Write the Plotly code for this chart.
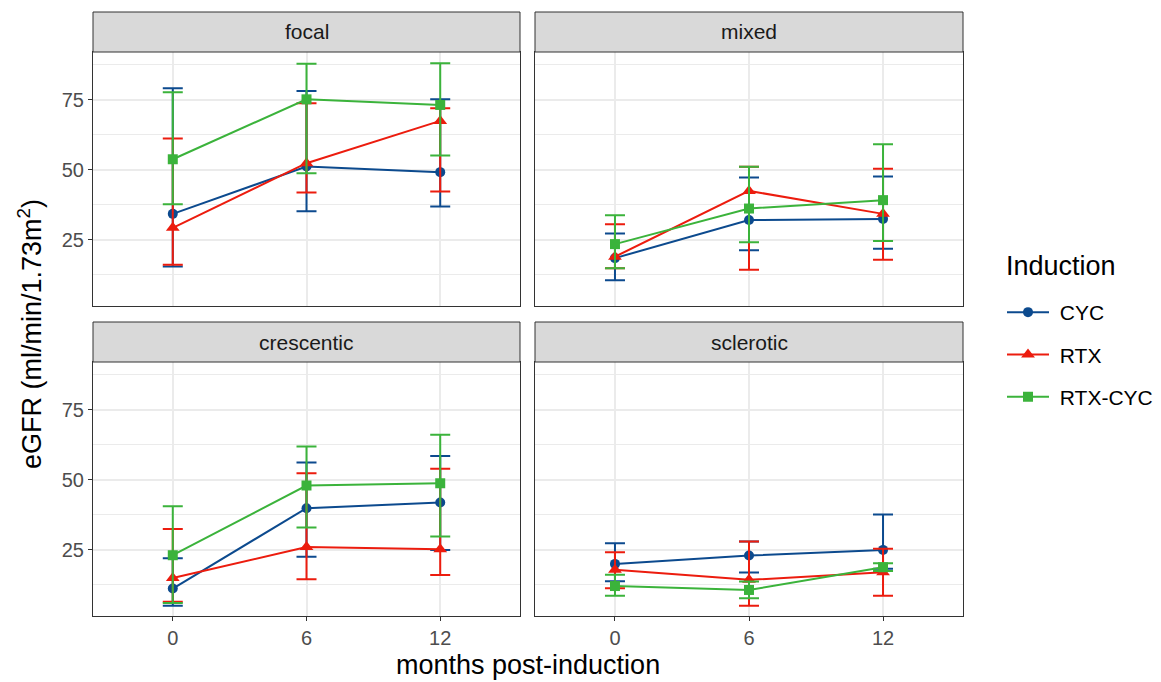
import plotly.graph_objects as go

months = [0, 6, 12]
panels = ["focal", "mixed", "crescentic", "sclerotic"]
groups = ["CYC", "RTX", "RTX-CYC"]

# mean, upper, lower per panel per group
mean = {
    "focal":      {"CYC": [34.3, 51.2, 49.2], "RTX": [29.3, 52.4, 67.5], "RTX-CYC": [53.8, 75.2, 73.2]},
    "mixed":      {"CYC": [18.5, 32.1, 32.5], "RTX": [19.0, 42.5, 34.3], "RTX-CYC": [23.5, 36.2, 39.2]},
    "crescentic": {"CYC": [11.2, 39.9, 41.9], "RTX": [15.0, 26.0, 25.2], "RTX-CYC": [23.1, 48.0, 48.8]},
    "sclerotic":  {"CYC": [20.0, 23.0, 25.0], "RTX": [17.9, 14.3, 17.0], "RTX-CYC": [12.1, 10.7, 18.8]},
}
upper = {
    "focal":      {"CYC": [79.2, 78.2, 75.2], "RTX": [61.2, 73.8, 72.0], "RTX-CYC": [77.7, 87.9, 88.1]},
    "mixed":      {"CYC": [27.3, 47.3, 47.6], "RTX": [30.6, 51.1, 50.4], "RTX-CYC": [33.8, 51.1, 59.2]},
    "crescentic": {"CYC": [22.0, 56.2, 58.5], "RTX": [32.5, 52.4, 54.0], "RTX-CYC": [40.6, 61.9, 66.1]},
    "sclerotic":  {"CYC": [27.4, 28.0, 37.6], "RTX": [24.2, 28.0, 25.4], "RTX-CYC": [16.1, 13.7, 20.2]},
}
lower = {
    "focal":      {"CYC": [15.5, 35.2, 36.9], "RTX": [16.1, 41.9, 42.3], "RTX-CYC": [37.7, 48.8, 55.1]},
    "mixed":      {"CYC": [10.6, 21.3, 21.8], "RTX": [14.9, 14.3, 17.9], "RTX-CYC": [14.9, 24.2, 24.6]},
    "crescentic": {"CYC": [5.1, 22.6, 25.0], "RTX": [6.5, 14.5, 16.0], "RTX-CYC": [6.0, 33.0, 29.8]},
    "sclerotic":  {"CYC": [13.8, 16.9, 18.3], "RTX": [11.3, 5.1, 8.6], "RTX-CYC": [8.6, 7.75, 17.5]},
}

colors = {"CYC": "#0C4A8E", "RTX": "#EC1C0E", "RTX-CYC": "#3BB33B"}
symbols = {"CYC": "circle", "RTX": "triangle-up", "RTX-CYC": "square"}
msize = {"CYC": 10, "RTX": 12, "RTX-CYC": 10}

FONT = "Liberation Sans, Arial, sans-serif"
W, H = 1161, 682
# pixel boxes for panels: (x0, x1, ytop, ybottom)
boxes = {
    "focal": (93, 520, 52, 306),
    "mixed": (535, 963, 52, 306),
    "crescentic": (93, 520, 362, 616),
    "sclerotic": (535, 963, 362, 616),
}
strip_h = 40

fig = go.Figure()
axis_ids = {"focal": "", "mixed": "2", "crescentic": "3", "sclerotic": "4"}

for p in panels:
    aid = axis_ids[p]
    for g in groups:
        m = mean[p][g]
        ep = [u - v for u, v in zip(upper[p][g], m)]
        em = [v - l for v, l in zip(m, lower[p][g])]
        fig.add_trace(go.Scatter(
            x=months, y=m, mode="lines+markers", name="\u00a0" + g,
            legendgroup=g, showlegend=(p == "focal"),
            line=dict(color=colors[g], width=2),
            marker=dict(symbol=symbols[g], size=msize[g], color=colors[g]),
            error_y=dict(type="data", symmetric=False, array=ep, arrayminus=em,
                         color=colors[g], thickness=2, width=10),
            xaxis="x" + aid, yaxis="y" + aid,
        ))

layout_axes = {}
shapes = []
annotations = []
for p in panels:
    aid = axis_ids[p]
    x0, x1, yt, yb = boxes[p]
    bottom_row = p in ("crescentic", "sclerotic")
    left_col = p in ("focal", "crescentic")
    layout_axes["xaxis" + aid] = dict(
        domain=[x0 / W, x1 / W], anchor="y" + aid,
        range=[-3.58, 15.58], tickvals=months,
        ticktext=[str(v) for v in months],
        showticklabels=bottom_row,
        ticks="outside" if bottom_row else "", ticklen=4, tickcolor="#333333",
        showgrid=True, gridcolor="#EBEBEB", gridwidth=1.6,
        showline=True, linecolor="#333333", linewidth=1, mirror=True,
        zeroline=False,
        tickfont=dict(family=FONT, size=20, color="#4D4D4D"),
    )
    layout_axes["yaxis" + aid] = dict(
        domain=[1 - yb / H, 1 - yt / H], anchor="x" + aid,
        range=[1.4, 92.1], tickvals=[25, 50, 75],
        showticklabels=left_col,
        ticks="outside" if left_col else "", ticklen=4, tickcolor="#333333",
        showgrid=True, gridcolor="#EBEBEB", gridwidth=1.6,
        minor=dict(tickvals=[12.5, 37.5, 62.5, 87.5], showgrid=True,
                   gridcolor="#EBEBEB", gridwidth=0.8, ticks=""),
        showline=True, linecolor="#333333", linewidth=1, mirror=True,
        zeroline=False,
        tickfont=dict(family=FONT, size=20, color="#4D4D4D"),
    )
    # strip
    shapes.append(dict(type="rect", xref="paper", yref="paper",
                       x0=x0 / W, x1=x1 / W, y0=1 - yt / H, y1=1 - (yt - strip_h) / H,
                       fillcolor="#D9D9D9", line=dict(color="#333333", width=1)))
    annotations.append(dict(text=p, xref="paper", yref="paper",
                            x=(x0 + x1) / 2 / W, y=1 - (yt - strip_h / 2) / H,
                            xanchor="center", yanchor="middle", showarrow=False,
                            font=dict(family=FONT, size=21, color="#1A1A1A")))

annotations.append(dict(text="months post-induction", xref="paper", yref="paper",
                        x=528 / W, y=1 - 665 / H, xanchor="center", yanchor="middle",
                        showarrow=False,
                        font=dict(family=FONT, size=27, color="#000000")))
annotations.append(dict(text="eGFR (ml/min/1.73m<sup>2</sup>)", xref="paper", yref="paper",
                        x=30 / W, y=1 - 334 / H, xanchor="center", yanchor="middle",
                        textangle=-90, showarrow=False,
                        font=dict(family=FONT, size=27, color="#000000")))
annotations.append(dict(text="Induction", xref="paper", yref="paper",
                        x=1004 / W, y=1 - 266 / H, xanchor="left", yanchor="middle",
                        showarrow=False,
                        font=dict(family=FONT, size=27, color="#000000")))

fig.update_layout(
    width=W, height=H,
    margin=dict(l=0, r=0, t=0, b=0),
    paper_bgcolor="white", plot_bgcolor="white",
    shapes=shapes, annotations=annotations,
    legend=dict(
        x=1002 / W, y=1 - 292 / H, xanchor="left", yanchor="top",
        font=dict(family=FONT, size=21, color="#000000"),
        tracegroupgap=12, itemwidth=42, bgcolor="rgba(0,0,0,0)",
    ),
    **layout_axes,
)

fig.write_html("out.html", config={"displayModeBar": False},
               post_script="document.body.style.margin='0';document.body.style.overflow='hidden';")
